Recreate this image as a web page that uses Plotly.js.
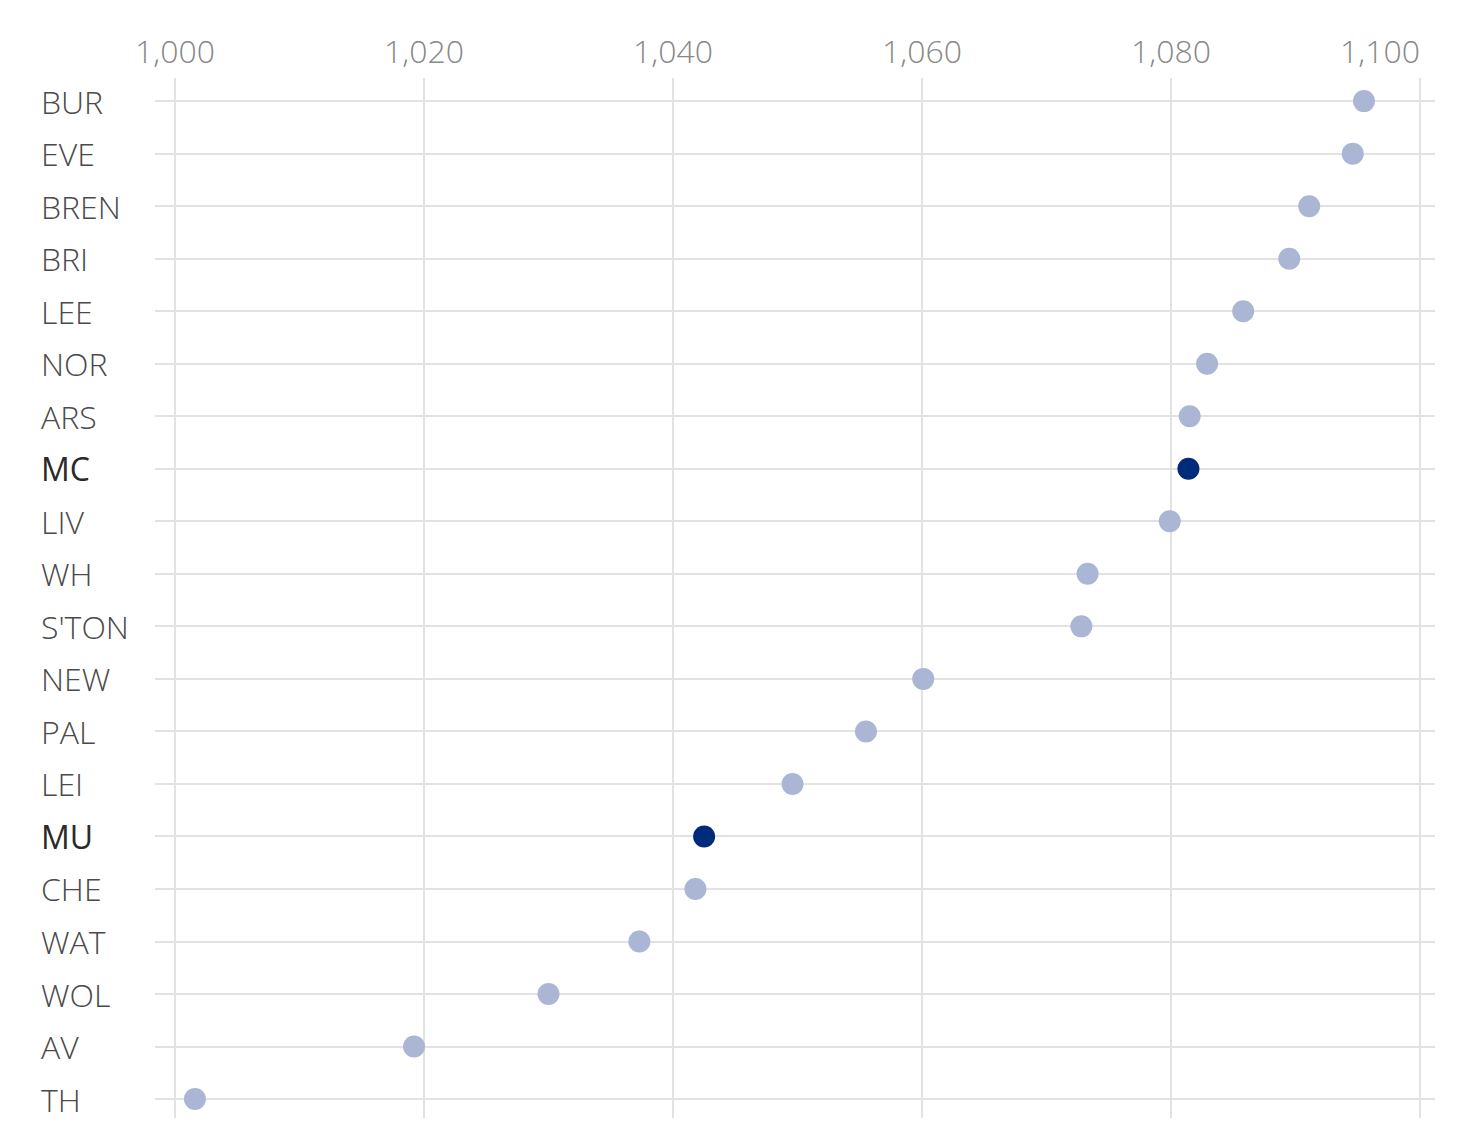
<!DOCTYPE html>
<html>
<head>
<meta charset="utf-8">
<script src="https://cdn.plot.ly/plotly-3.0.1.min.js"></script>
<style>html,body{margin:0;padding:0;background:#fff;}#chart{width:1460px;height:1131px;}</style>
</head>
<body>
<div id="chart"></div>
<script>
const teams = ["BUR","EVE","BREN","BRI","LEE","NOR","ARS","MC","LIV","WH","S'TON","NEW","PAL","LEI","MU","CHE","WAT","WOL","AV","TH"];
const values = [1095.5,1094.6,1091.1,1089.5,1085.8,1082.9,1081.5,1081.4,1079.9,1073.3,1072.8,1060.1,1055.5,1049.6,1042.5,1041.8,1037.3,1030.0,1019.2,1001.6];
const highlighted = ["MC","MU"];
const xTicks = [1000,1020,1040,1060,1080,1100];
const xTickLabels = ["1,000","1,020","1,040","1,060","1,080","1,100"];

const FONT = "Open Sans, Noto Sans, sans-serif";
const colors = teams.map(t => highlighted.includes(t) ? "#002a7a" : "#aab6d3");

const trace = {
  type: "scatter",
  mode: "markers",
  x: values,
  y: teams,
  marker: {size: 22, color: colors, line: {width: 0}},
  hoverinfo: "x+y"
};

const rowLabels = teams.map(t => ({
  xref: "paper", yref: "y",
  x: (39 - 155) / 1280, y: t,
  xanchor: "left", yanchor: "middle",
  text: t, showarrow: false,
  font: {family: FONT, size: 32, color: highlighted.includes(t) ? "#2a2a2a" : "#4a4a4a", weight: highlighted.includes(t) ? 500 : 300}
}));

// top axis labels; the last one is right-aligned to its gridline so it stays inside
const axisLabels = xTicks.map((v, i) => ({
  xref: "x", yref: "paper",
  x: v, y: 1, yshift: 28,
  xanchor: i === xTicks.length - 1 ? "right" : "center",
  xshift: i === xTicks.length - 1 ? 2 : 0,
  yanchor: "middle",
  text: xTickLabels[i], showarrow: false,
  font: {family: FONT, size: 32, color: "#888", weight: 300}
}));

const layout = {
  width: 1460, height: 1131,
  margin: {l: 155, r: 25, t: 78, b: 13},
  paper_bgcolor: "#fff", plot_bgcolor: "#fff",
  showlegend: false,
  xaxis: {
    side: "top",
    range: [1000 - 20/12.45, 1100 + 15/12.45],
    tickvals: xTicks,
    showticklabels: false,
    showgrid: true, gridcolor: "#e2e2e2", gridwidth: 2,
    zeroline: false, showline: false, ticks: ""
  },
  yaxis: {
    type: "category",
    categoryorder: "array", categoryarray: teams,
    range: [19.36, -0.44],
    showgrid: true, gridcolor: "#e2e2e2", gridwidth: 2,
    zeroline: false, showline: false, ticks: "",
    showticklabels: false
  },
  annotations: rowLabels.concat(axisLabels)
};

Plotly.newPlot("chart", [trace], layout, {displayModeBar: false, staticPlot: true});
</script>
</body>
</html>
